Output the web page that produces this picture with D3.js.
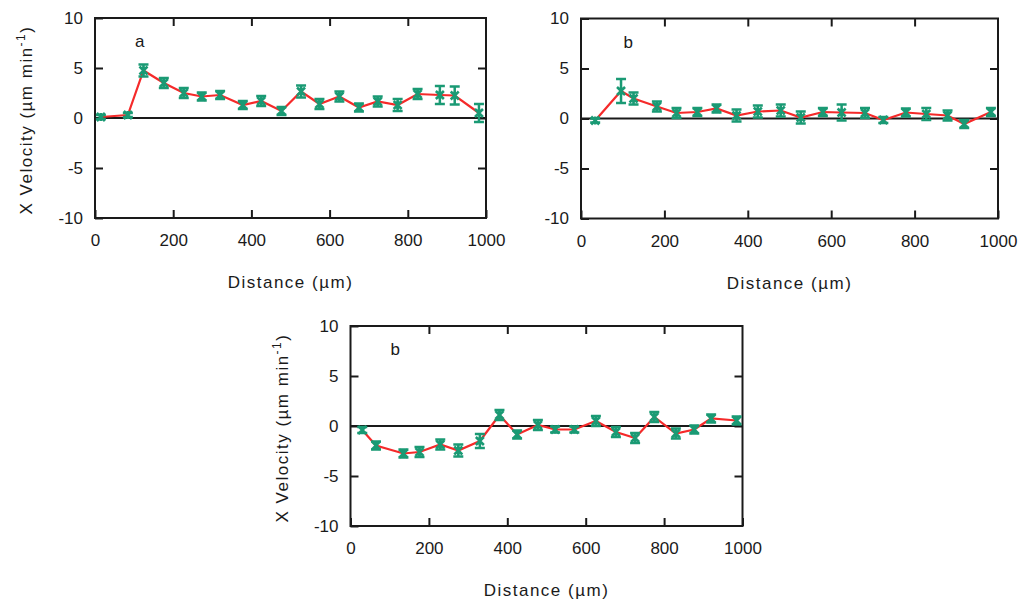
<!DOCTYPE html>
<html><head><meta charset="utf-8">
<script src="https://cdn.jsdelivr.net/npm/d3@7"></script>
<style>body{margin:0;background:#fff}svg text{font-family:"Liberation Sans",Arial,sans-serif;fill:#1a1a1a}</style>
</head><body><svg id="c" width="1033" height="604"></svg>
<script>
// Panel a
const xA = [15, 84, 124, 176, 227, 273, 320, 378, 425, 477, 527, 574, 625, 675, 723, 774, 825, 882, 920, 982];
const yA = [0.1, 0.3, 4.75, 3.5, 2.5, 2.15, 2.3, 1.3, 1.7, 0.7, 2.65, 1.4, 2.15, 1.05, 1.65, 1.3, 2.4, 2.3, 2.25, 0.5];
const eA = [0.2, 0.2, 0.6, 0.5, 0.5, 0.4, 0.4, 0.4, 0.5, 0.4, 0.6, 0.5, 0.5, 0.4, 0.5, 0.6, 0.5, 0.9, 0.9, 0.9];
// Panel b (top right)
const xB = [34, 96, 126, 182, 229, 279, 325, 373, 424, 479, 527, 580, 625, 681, 725, 779, 828, 879, 919, 983];
const yB = [-0.2, 2.75, 2.0, 1.2, 0.55, 0.65, 1.0, 0.3, 0.7, 0.8, 0.1, 0.65, 0.6, 0.55, -0.15, 0.6, 0.45, 0.3, -0.55, 0.65];
const eB = [0.2, 1.2, 0.6, 0.5, 0.5, 0.4, 0.4, 0.6, 0.6, 0.6, 0.6, 0.4, 0.8, 0.5, 0.3, 0.4, 0.6, 0.5, 0.4, 0.4];
// Panel c (bottom)
const xC = [30, 65, 135, 176, 229, 275, 330, 380, 425, 478, 522, 571, 626, 677, 726, 775, 830, 877, 920, 985];
const yC = [-0.4, -1.95, -2.75, -2.6, -1.85, -2.45, -1.5, 1.1, -0.85, 0.1, -0.35, -0.35, 0.5, -0.6, -1.2, 0.9, -0.75, -0.35, 0.75, 0.55];
const eC = [0.3, 0.4, 0.4, 0.5, 0.5, 0.6, 0.7, 0.5, 0.4, 0.5, 0.3, 0.3, 0.5, 0.5, 0.5, 0.5, 0.5, 0.4, 0.4, 0.4];

const xTicks = [0, 200, 400, 600, 800, 1000];
const yTicks = [-10, -5, 0, 5, 10];
const panelLabels = ["a", "b", "b"];
const xTitle = "Distance (µm)";

const svg = d3.select("#c");
const GREEN = "#1a9a74", RED = "#f52a2a", INK = "#1a1a1a";

function panel(cfg) {
  const {x0, x1, y0, y1, xs, ys, es, label, yTitle} = cfg;
  const x = d3.scaleLinear().domain([0, 1000]).range([x0, x1]);
  const y = d3.scaleLinear().domain([-10, 10]).range([y1, y0]);
  const g = svg.append("g");
  // zero line
  g.append("line").attr("x1", x0).attr("x2", x1).attr("y1", y(0)).attr("y2", y(0))
    .attr("stroke", INK).attr("stroke-width", 2);
  const fmt = d => d;
  g.append("g").attr("transform", `translate(0,${y1})`)
    .call(d3.axisBottom(x).tickValues(xTicks).tickSize(-8).tickPadding(16).tickFormat(fmt))
    .call(a => a.select(".domain").remove());
  g.append("g").attr("transform", `translate(0,${y0})`)
    .call(d3.axisTop(x).tickValues(xTicks.slice(1, -1)).tickSize(-8).tickFormat(""))
    .call(a => a.select(".domain").remove());
  g.append("g").attr("transform", `translate(${x0},0)`)
    .call(d3.axisLeft(y).tickValues(yTicks).tickSize(-8).tickPadding(12).tickFormat(fmt))
    .call(a => a.select(".domain").remove());
  g.append("g").attr("transform", `translate(${x1},0)`)
    .call(d3.axisRight(y).tickValues(yTicks.slice(1, -1)).tickSize(-8).tickFormat(""))
    .call(a => a.select(".domain").remove());
  g.selectAll(".tick line").attr("stroke", INK).attr("stroke-width", 2);
  g.selectAll(".tick text").attr("font-size", 17).attr("fill", INK)
    .attr("font-family", '"Liberation Sans", Arial, sans-serif');
  // frame
  g.append("rect").attr("x", x0).attr("y", y0).attr("width", x1 - x0).attr("height", y1 - y0)
    .attr("fill", "none").attr("stroke", INK).attr("stroke-width", 2);
  // line
  const data = xs.map((v, i) => ({x: v, y: ys[i], e: es[i]}));
  g.append("path").datum(data)
    .attr("d", d3.line().x(d => x(d.x)).y(d => y(d.y)))
    .attr("fill", "none").attr("stroke", RED).attr("stroke-width", 2.2);
  // markers
  const m = g.append("g").attr("stroke", GREEN).attr("stroke-width", 2.5).attr("fill", "none");
  data.forEach(d => {
    const cx = x(d.x), cy = y(d.y), t = y(d.y + d.e), b = y(d.y - d.e);
    const cw = 5, s = 4;
    m.append("line").attr("x1", cx).attr("x2", cx).attr("y1", t).attr("y2", b);
    m.append("line").attr("x1", cx - cw).attr("x2", cx + cw).attr("y1", t).attr("y2", t);
    m.append("line").attr("x1", cx - cw).attr("x2", cx + cw).attr("y1", b).attr("y2", b);
    m.append("path").attr("d", `M${cx - s},${cy - s}L${cx + s},${cy + s}M${cx - s},${cy + s}L${cx + s},${cy - s}M${cx},${cy - s}L${cx},${cy + s}`);
  });
  // panel label
  g.append("text").attr("x", x(102)).attr("y", y0 + 29).attr("font-size", 17).text(label);
  // x title
  g.append("text").attr("x", (x0 + x1) / 2).attr("y", y1 + 70).attr("text-anchor", "middle")
    .attr("font-size", 17).attr("letter-spacing", 1.5).text(xTitle);
  if (yTitle) {
    const t = g.append("text").attr("transform", `translate(${x0 - 63},${(y0 + y1) / 2 + 2}) rotate(-90)`)
      .attr("text-anchor", "middle").attr("font-size", 17).attr("letter-spacing", 1.5);
    t.append("tspan").text("X Velocity (µm min");
    t.append("tspan").attr("dy", -7).attr("font-size", 12).text("-1");
    t.append("tspan").attr("dy", 7).text(")");
  }
}

panel({x0: 95, x1: 486, y0: 18, y1: 218, xs: xA, ys: yA, es: eA, label: panelLabels[0], yTitle: true});
panel({x0: 581, x1: 998, y0: 18.5, y1: 218.5, xs: xB, ys: yB, es: eB, label: panelLabels[1], yTitle: false});
panel({x0: 350.5, x1: 742.5, y0: 326, y1: 526, xs: xC, ys: yC, es: eC, label: panelLabels[2], yTitle: true});
</script></body></html>
